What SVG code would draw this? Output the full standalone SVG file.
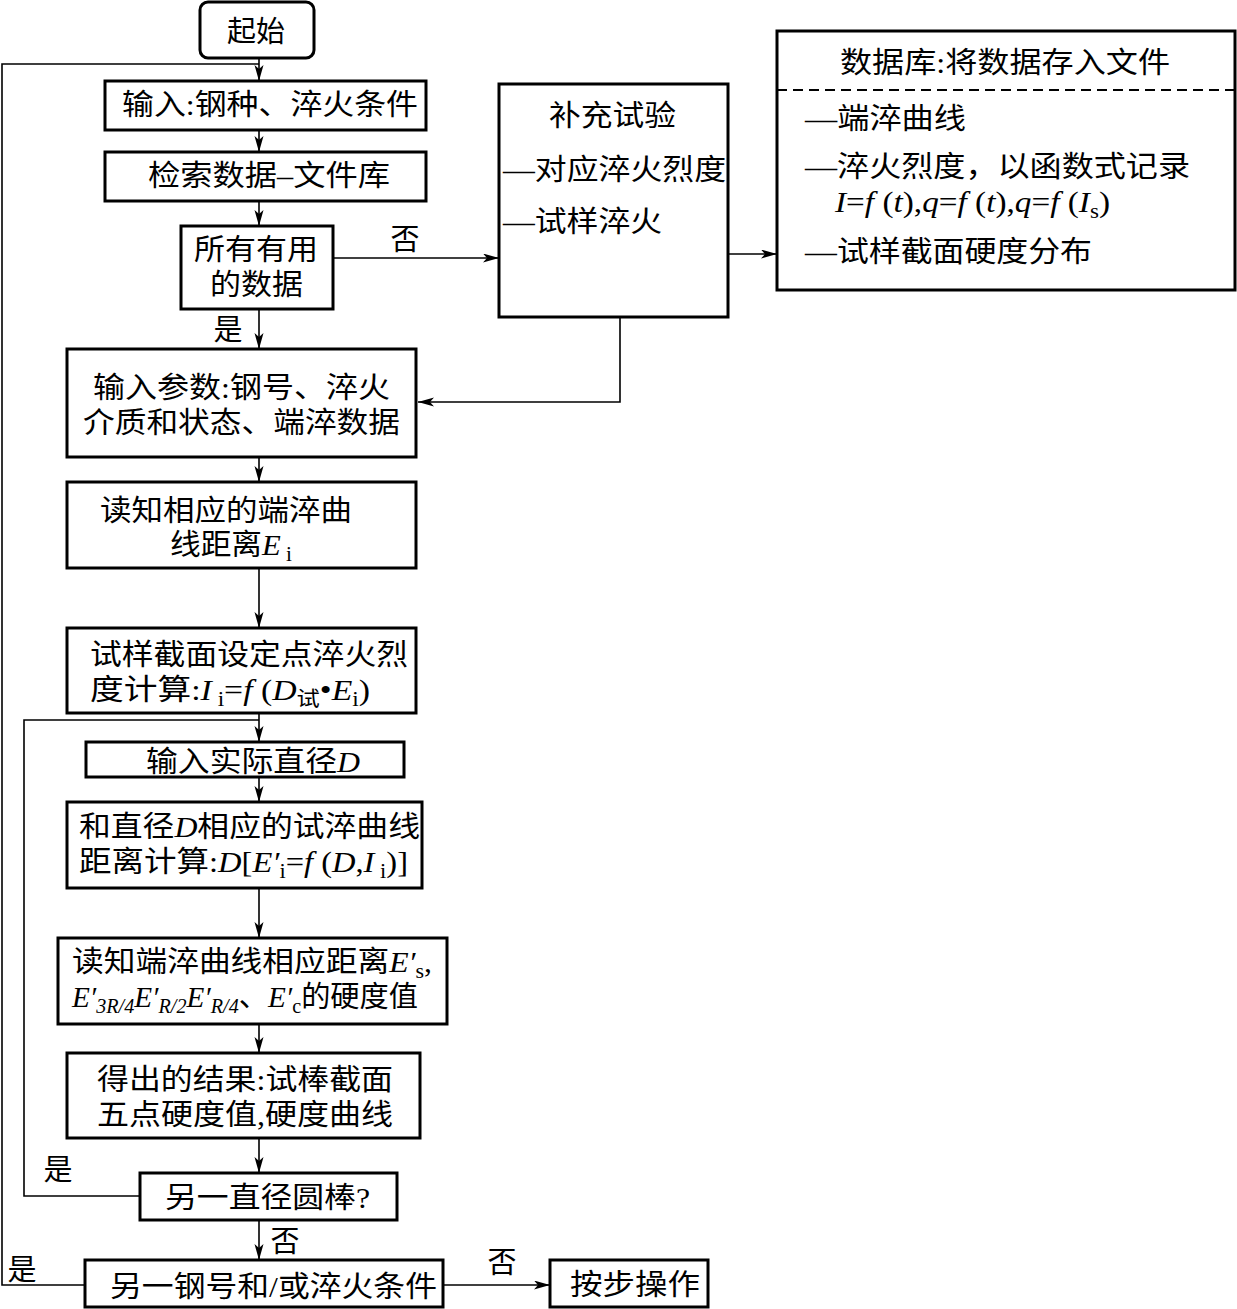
<svg xmlns="http://www.w3.org/2000/svg" width="1237" height="1309" viewBox="0 0 1237 1309">
<defs>
<marker id="arr" markerUnits="userSpaceOnUse" markerWidth="18" markerHeight="10" refX="16" refY="4.5" orient="auto">
<path d="M0,0 L16,4.5 L0,9 L4,4.5 z" fill="#000"/>
</marker>
<style>
.box{fill:#fff;stroke:#000;stroke-width:3}
.ln{fill:none;stroke:#000;stroke-width:1.6}
text{font-family:"Liberation Serif","Noto Sans CJK SC",serif;font-size:29px;fill:#000}
.c{text-anchor:middle}
.i{font-style:italic}
.s{font-size:20px}
</style>
</defs>
<rect width="1237" height="1309" fill="#fff"/>
<g id="connectors">
<polyline class="ln" points="85,1285 2,1285 2,64 259,64"/>
<line class="ln" x1="259" y1="58" x2="259" y2="81" marker-end="url(#arr)"/>
<line class="ln" x1="259" y1="130" x2="259" y2="152" marker-end="url(#arr)"/>
<line class="ln" x1="259" y1="201" x2="259" y2="226" marker-end="url(#arr)"/>
<line class="ln" x1="259" y1="309" x2="259" y2="349" marker-end="url(#arr)"/>
<line class="ln" x1="333" y1="258" x2="499" y2="258" marker-end="url(#arr)"/>
<line class="ln" x1="728" y1="254" x2="777" y2="254" marker-end="url(#arr)"/>
<polyline class="ln" points="620,317 620,402 418,402" marker-end="url(#arr)"/>
<line class="ln" x1="259" y1="457" x2="259" y2="482" marker-end="url(#arr)"/>
<line class="ln" x1="259" y1="568" x2="259" y2="628" marker-end="url(#arr)"/>
<line class="ln" x1="259" y1="713" x2="259" y2="742" marker-end="url(#arr)"/>
<polyline class="ln" points="140,1196 24,1196 24,720 259,720"/>
<line class="ln" x1="259" y1="777" x2="259" y2="802" marker-end="url(#arr)"/>
<line class="ln" x1="259" y1="888" x2="259" y2="938" marker-end="url(#arr)"/>
<line class="ln" x1="259" y1="1024" x2="259" y2="1053" marker-end="url(#arr)"/>
<line class="ln" x1="259" y1="1138" x2="259" y2="1173" marker-end="url(#arr)"/>
<line class="ln" x1="259" y1="1220" x2="259" y2="1260" marker-end="url(#arr)"/>
<line class="ln" x1="443" y1="1285" x2="550" y2="1285" marker-end="url(#arr)"/>
<text x="405" y="250" class="c">否</text>
<text x="228" y="340" class="c">是</text>
<text x="58" y="1180" class="c">是</text>
<text x="285" y="1252" class="c">否</text>
<text x="22" y="1280" class="c">是</text>
<text x="502" y="1273" class="c">否</text>
</g>
<g id="start">
<rect class="box" x="200" y="2" width="114" height="56" rx="8"/>
<text x="256" y="42" class="c">起始</text>
</g>
<g id="input1">
<rect class="box" x="105" y="81" width="321" height="49"/>
<text x="122" y="115" textLength="296" lengthAdjust="spacingAndGlyphs">输入:钢种、淬火条件</text>
</g>
<g id="search">
<rect class="box" x="105" y="152" width="321" height="49"/>
<text x="148" y="186" textLength="242" lengthAdjust="spacingAndGlyphs">检索数据–文件库</text>
</g>
<g id="alldata">
<rect class="box" x="181" y="226" width="152" height="83"/>
<text x="194" y="260" textLength="124" lengthAdjust="spacingAndGlyphs">所有有用</text>
<text x="210" y="295" textLength="93" lengthAdjust="spacingAndGlyphs">的数据</text>
</g>
<g id="supplement">
<rect class="box" x="499" y="84" width="229" height="233"/>
<text x="549" y="126" textLength="127" lengthAdjust="spacingAndGlyphs">补充试验</text>
<text x="503" y="180" textLength="223" lengthAdjust="spacingAndGlyphs">—对应淬火烈度</text>
<text x="503" y="232" textLength="159" lengthAdjust="spacingAndGlyphs">—试样淬火</text>
</g>
<g id="database">
<rect class="box" x="777" y="31" width="458" height="259"/>
<line x1="777" y1="90" x2="1235" y2="90" stroke="#000" stroke-width="2" stroke-dasharray="10,6"/>
<text x="840" y="73" textLength="330" lengthAdjust="spacingAndGlyphs">数据库:将数据存入文件</text>
<text x="805" y="129" textLength="161" lengthAdjust="spacingAndGlyphs">—端淬曲线</text>
<text x="805" y="177" textLength="385" lengthAdjust="spacingAndGlyphs">—淬火烈度，以函数式记录</text>
<text x="835" y="212" textLength="275" lengthAdjust="spacingAndGlyphs"><tspan class="i">I</tspan>=<tspan class="i">f</tspan> (<tspan class="i">t</tspan>),<tspan class="i">q</tspan>=<tspan class="i">f</tspan> (<tspan class="i">t</tspan>),<tspan class="i">q</tspan>=<tspan class="i">f</tspan> (<tspan class="i">I</tspan><tspan class="s" dy="6">s</tspan><tspan dy="-6">)</tspan></text>
<text x="805" y="262" textLength="287" lengthAdjust="spacingAndGlyphs">—试样截面硬度分布</text>
</g>
<g id="params">
<rect class="box" x="67" y="349" width="349" height="108"/>
<text x="93" y="398" textLength="297" lengthAdjust="spacingAndGlyphs">输入参数:钢号、淬火</text>
<text x="83" y="433" textLength="317" lengthAdjust="spacingAndGlyphs">介质和状态、端淬数据</text>
</g>
<g id="readE">
<rect class="box" x="67" y="482" width="349" height="86"/>
<text x="100" y="521" textLength="252" lengthAdjust="spacingAndGlyphs">读知相应的端淬曲</text>
<text x="170" y="555" textLength="122" lengthAdjust="spacingAndGlyphs">线距离<tspan class="i">E</tspan><tspan class="s" dy="6"> i</tspan></text>
</g>
<g id="calcI">
<rect class="box" x="67" y="628" width="349" height="85"/>
<text x="90" y="665" textLength="318" lengthAdjust="spacingAndGlyphs">试样截面设定点淬火烈</text>
<text x="90" y="700" textLength="280" lengthAdjust="spacingAndGlyphs">度计算:<tspan class="i">I</tspan><tspan class="s" dy="6"> i</tspan><tspan dy="-6">=</tspan><tspan class="i">f</tspan> (<tspan class="i">D</tspan><tspan class="s" dy="6">试</tspan><tspan dy="-6">•</tspan><tspan class="i">E</tspan><tspan class="s" dy="6">i</tspan><tspan dy="-6">)</tspan></text>
</g>
<g id="inputD">
<rect class="box" x="86" y="742" width="318" height="35"/>
<text x="146" y="772" textLength="214" lengthAdjust="spacingAndGlyphs">输入实际直径<tspan class="i">D</tspan></text>
</g>
<g id="calcE">
<rect class="box" x="67" y="802" width="355" height="86"/>
<text x="79" y="837" textLength="341" lengthAdjust="spacingAndGlyphs">和直径<tspan class="i">D</tspan>相应的试淬曲线</text>
<text x="79" y="872" textLength="329" lengthAdjust="spacingAndGlyphs">距离计算:<tspan class="i">D</tspan>[<tspan class="i">E′</tspan><tspan class="s" dy="6">i</tspan><tspan dy="-6">=</tspan><tspan class="i">f</tspan> (<tspan class="i">D</tspan>,<tspan class="i">I</tspan><tspan class="s" dy="6"> i</tspan><tspan dy="-6">)]</tspan></text>
</g>
<g id="readHard">
<rect class="box" x="58" y="938" width="389" height="86"/>
<text x="72" y="972" textLength="360" lengthAdjust="spacingAndGlyphs">读知端淬曲线相应距离<tspan class="i">E′</tspan><tspan class="s" dy="6">s</tspan><tspan dy="-6">,</tspan></text>
<text x="72" y="1007" textLength="346" lengthAdjust="spacingAndGlyphs"><tspan class="i">E′</tspan><tspan class="s i" dy="6">3R/4</tspan><tspan class="i" dy="-6">E′</tspan><tspan class="s i" dy="6">R/2</tspan><tspan class="i" dy="-6">E′</tspan><tspan class="s i" dy="6">R/4</tspan><tspan dy="-6">、</tspan><tspan class="i">E′</tspan><tspan class="s" dy="6">c</tspan><tspan dy="-6">的硬度值</tspan></text>
</g>
<g id="result">
<rect class="box" x="67" y="1053" width="353" height="85"/>
<text x="97" y="1090" textLength="296" lengthAdjust="spacingAndGlyphs">得出的结果:试棒截面</text>
<text x="97" y="1125" textLength="296" lengthAdjust="spacingAndGlyphs">五点硬度值,硬度曲线</text>
</g>
<g id="anotherD">
<rect class="box" x="140" y="1173" width="257" height="47"/>
<text x="165" y="1208" textLength="205" lengthAdjust="spacingAndGlyphs">另一直径圆棒?</text>
</g>
<g id="anotherSteel">
<rect class="box" x="85" y="1260" width="358" height="47"/>
<text x="110" y="1297" textLength="327" lengthAdjust="spacingAndGlyphs">另一钢号和/或淬火条件</text>
</g>
<g id="proceed">
<rect class="box" x="550" y="1260" width="158" height="47"/>
<text x="570" y="1295" textLength="130" lengthAdjust="spacingAndGlyphs">按步操作</text>
</g>
</svg>
